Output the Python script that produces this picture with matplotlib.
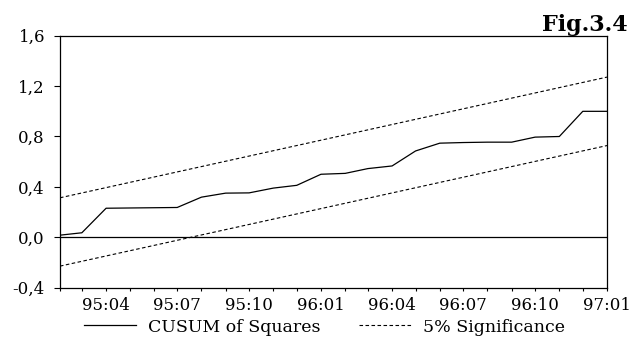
import matplotlib
matplotlib.use("Agg")
import matplotlib.pyplot as plt
import matplotlib.dates as mdates
from matplotlib.ticker import FuncFormatter
import pandas as pd

# Monthly observations, 1995:02 .. 1997:01
months = pd.date_range("1995-02-01", "1997-01-01", freq="MS")

# CUSUM of squares statistic
cusum_sq = [0.016, 0.035, 0.230, 0.232, 0.234, 0.236, 0.318, 0.350, 0.352,
            0.390, 0.412, 0.500, 0.507, 0.545, 0.566, 0.685, 0.747, 0.752,
            0.755, 0.755, 0.795, 0.800, 1.000, 1.000]

# 5% significance bounds (straight lines between the first and last month)
bound_dates = [months[0], months[-1]]
upper_bound = [0.313, 1.272]
lower_bound = [-0.230, 0.728]

y_ticks = [-0.4, 0.0, 0.4, 0.8, 1.2, 1.6]

plt.rcParams["font.family"] = ["DejaVu Serif"]

fig = plt.figure(figsize=(6.30, 3.46), dpi=100)
ax = fig.add_axes([0.0952, 0.169, 0.8683, 0.7275])

ax.plot(months, cusum_sq, color="black", lw=0.9, label="CUSUM of Squares")
ax.plot(bound_dates, upper_bound, color="black", lw=0.8,
        linestyle=(0, (3.2, 2.2)), label="5% Significance")
ax.plot(bound_dates, lower_bound, color="black", lw=0.8,
        linestyle=(0, (3.2, 2.2)))
ax.axhline(0.0, color="black", lw=0.9)

ax.set_xlim(months[0], months[-1])
ax.set_ylim(-0.4, 1.6)
ax.set_yticks(y_ticks)
ax.yaxis.set_major_formatter(FuncFormatter(lambda v, p: f"{v:.1f}".replace(".", ",")))

ax.xaxis.set_major_locator(mdates.MonthLocator(bymonth=[1, 4, 7, 10]))
ax.xaxis.set_minor_locator(mdates.MonthLocator())
ax.xaxis.set_major_formatter(mdates.DateFormatter("%y:%m"))

ax.tick_params(axis="x", which="both", direction="out", length=2.5, width=0.8,
               pad=4.0, labelsize=12)
ax.tick_params(axis="y", which="major", direction="out", length=4.3, width=0.8,
               pad=6.5, labelsize=12)
for s in ax.spines.values():
    s.set_linewidth(0.9)

fig.text(628 / 630, 1 - 31 / 346, "Fig.3.4", fontsize=16, fontweight="bold",
         ha="right", va="baseline")

handles, labels = ax.get_legend_handles_labels()
fig.legend(handles, labels, loc="lower center", bbox_to_anchor=(0.515, -0.015),
           ncol=2, frameon=False, fontsize=12.5, handlelength=3.0,
           handletextpad=0.7, columnspacing=2.2)

fig.savefig("out.png", dpi=100)
